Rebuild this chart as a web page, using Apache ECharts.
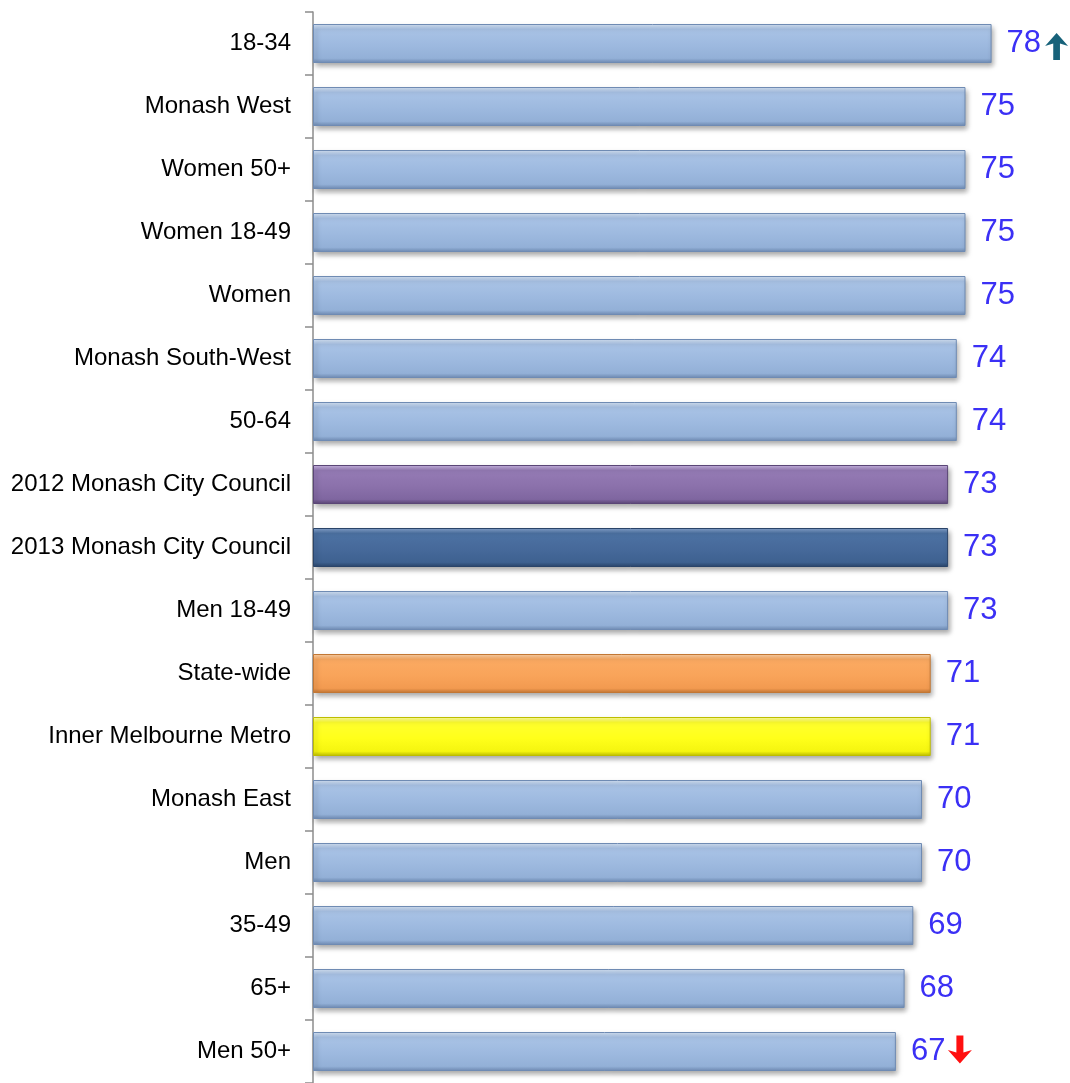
<!DOCTYPE html>
<html>
<head>
<meta charset="utf-8">
<script src="https://cdn.jsdelivr.net/npm/echarts@6/dist/echarts.min.js"></script>
<style>
html,body{margin:0;padding:0;background:#fff;}
#chart{width:1070px;height:1083px;}
</style>
</head>
<body>
<div id="chart"></div>
<script>
var categories = ['18-34','Monash West','Women 50+','Women 18-49','Women','Monash South-West','50-64','2012 Monash City Council','2013 Monash City Council','Men 18-49','State-wide','Inner Melbourne Metro','Monash East','Men','35-49','65+','Men 50+'];
var values = [78,75,75,75,75,74,74,73,73,73,71,71,70,70,69,68,67];
var trendUp = ['18-34'];
var trendDown = ['Men 50+'];

var palettes = {
  base:   ['#D6E4F6','#A9C3E6','#9DB9DF','#93B0D7','#6F8BB3'],
  '2012 Monash City Council': ['#CDB9E6','#957BB5','#8B71AB','#7F66A0','#5A4676'],
  '2013 Monash City Council': ['#89A6D0','#4D72A3','#46699A','#3E6190','#2A4469'],
  'State-wide': ['#FDD3AA','#FBAA62','#F9A45A','#F29A50','#C27734'],
  'Inner Melbourne Metro': ['#FFFFA8','#FFFF2E','#FFFF1A','#F5F510','#BDBD00']
};
function grad(p){
  return new echarts.graphic.LinearGradient(0,0,0,1,[
    {offset:0,color:p[0]},{offset:0.14,color:p[1]},{offset:0.55,color:p[2]},{offset:0.88,color:p[3]},{offset:1,color:p[4]}
  ]);
}
var seriesData = categories.map(function(c,i){
  var p = palettes[c] || palettes.base;
  return {value: values[i], itemStyle:{color: grad(p), borderColor: p[4], borderWidth: 1}};
});

var upPath = 'path://M12,0 L24,13 L15.5,10.5 L15.5,27 L8.5,27 L8.5,10.5 L0,13 Z';
var downPath = 'path://M12,27 L24,14 L15.5,16.5 L15.5,0 L8.5,0 L8.5,16.5 L0,14 Z';
var marks = [];
categories.forEach(function(c,i){
  if (trendUp.indexOf(c) >= 0) marks.push({coord:[values[i], c], symbol: upPath, symbolSize:[23,27], symbolOffset:[65,3], itemStyle:{color:'#17627A'}});
  if (trendDown.indexOf(c) >= 0) marks.push({coord:[values[i], c], symbol: downPath, symbolSize:[24,28], symbolOffset:[64,-2], itemStyle:{color:'#FF1010'}});
});

var chart = echarts.init(document.getElementById('chart'));
chart.setOption({
  animation:false,
  grid:{left:313, top:12, width:696, bottom:-4, containLabel:false},
  xAxis:{type:'value', min:0, max:80, show:false},
  yAxis:{
    type:'category', data:categories, inverse:true,
    axisLine:{show:true, lineStyle:{color:'#8C8C8C', width:1.5}},
    axisTick:{show:true, length:8, lineStyle:{color:'#8C8C8C', width:1.5}},
    axisLabel:{margin:22, color:'#000', fontSize:24, fontFamily:'Liberation Sans, Arial, sans-serif'}
  },
  series:[{
    type:'bar', data:seriesData, barWidth:39,
    itemStyle:{shadowColor:'rgba(0,0,0,0.35)', shadowBlur:5, shadowOffsetX:2, shadowOffsetY:3},
    label:{show:true, position:'right', distance:15, color:'#3B30F5', fontSize:31, fontFamily:'Liberation Sans, Arial, sans-serif'},
    markPoint:{data:marks, label:{show:false}, silent:true}
  }]
});
</script>
</body>
</html>
